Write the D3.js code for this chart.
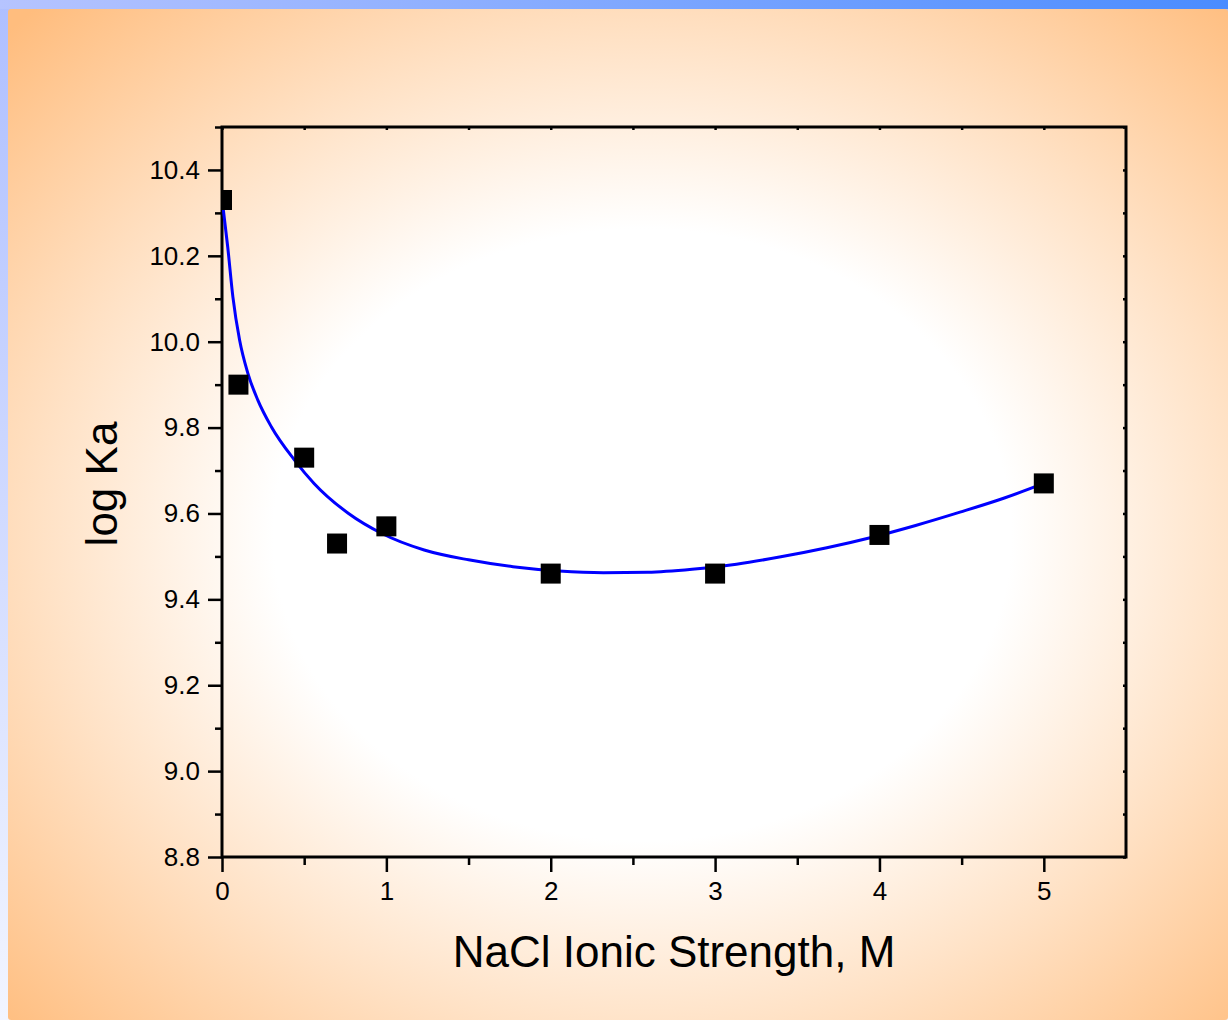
<!DOCTYPE html>
<html>
<head>
<meta charset="utf-8">
<script src="https://cdn.jsdelivr.net/npm/d3@7"></script>
<style>
  html, body { margin: 0; padding: 0; background: #fff; }
  svg { display: block; }
  text { font-family: "Liberation Sans", Arial, sans-serif; fill: #000; }
</style>
</head>
<body>
<svg id="chart" width="1228" height="1020"></svg>
<script>
// measured points
const strength = [0, 0.1, 0.5, 0.7, 1, 2, 3, 4, 5];
const logKa    = [10.33, 9.90, 9.73, 9.53, 9.57, 9.46, 9.46, 9.55, 9.67];

// fitted curve
const fitX = [0, 0.035, 0.066, 0.107, 0.157, 0.218, 0.30, 0.44, 0.56, 0.77, 0.97,
              1.23, 1.5, 1.77, 2.05, 2.32, 2.59, 2.86, 3.13, 3.4, 3.68, 3.95,
              4.22, 4.49, 4.76, 5.0];
const fitY = [10.334, 10.22, 10.105, 10.004, 9.927, 9.864, 9.802, 9.725, 9.67, 9.60, 9.554,
              9.515, 9.492, 9.476, 9.466, 9.462, 9.463, 9.47, 9.482, 9.499, 9.52, 9.544,
              9.572, 9.603, 9.636, 9.67];

// tick values
const xMajor = [0, 1, 2, 3, 4, 5];
const xMinor = [0.5, 1.5, 2.5, 3.5, 4.5];
const yMajor = [8.8, 9.0, 9.2, 9.4, 9.6, 9.8, 10.0, 10.2, 10.4];
const yMinor = [8.9, 9.1, 9.3, 9.5, 9.7, 9.9, 10.1, 10.3, 10.5];

const svg = d3.select("#chart");
const W = 1228, H = 1020;
const margin = { top: 127, right: 102, bottom: 163, left: 222 };
const width  = W - margin.left - margin.right;
const height = H - margin.top  - margin.bottom;

// background
const defs = svg.append("defs");
const topGrad = defs.append("linearGradient").attr("id", "topbar");
topGrad.append("stop").attr("offset", "0%").attr("stop-color", "#b6c4ff");
topGrad.append("stop").attr("offset", "100%").attr("stop-color", "#4a8cff");

const leftGrad = defs.append("linearGradient").attr("id", "leftbar")
  .attr("x1", 0).attr("y1", 0).attr("x2", 0).attr("y2", 1);
leftGrad.append("stop").attr("offset", "0%").attr("stop-color", "#aebfff");
leftGrad.append("stop").attr("offset", "100%").attr("stop-color", "#f2f5ff");

const glow = defs.append("radialGradient").attr("id", "glow")
  .attr("cx", "52%").attr("cy", "52%").attr("r", "72%");
glow.append("stop").attr("offset", "0%").attr("stop-color", "#ffffff");
glow.append("stop").attr("offset", "42%").attr("stop-color", "#ffffff");
glow.append("stop").attr("offset", "68%").attr("stop-color", "#ffe2c6");
glow.append("stop").attr("offset", "100%").attr("stop-color", "#ffbd7e");

defs.append("clipPath").attr("id", "plotclip")
  .append("rect").attr("width", width).attr("height", height);

svg.append("rect").attr("width", W).attr("height", H).attr("fill", "url(#leftbar)");
svg.append("rect").attr("width", W).attr("height", 9).attr("fill", "url(#topbar)");
svg.append("rect")
  .attr("x", 8).attr("y", 9).attr("width", W - 8).attr("height", H - 9)
  .attr("rx", 3)
  .attr("fill", "url(#glow)");

const x = d3.scaleLinear().domain([0, 5.5]).range([0, width]);
const y = d3.scaleLinear().domain([8.8, 10.5]).range([height, 0]);

const g = svg.append("g")
  .attr("transform", `translate(${margin.left},${margin.top})`);

// axes
function styleAxis(sel) {
  sel.select(".domain").remove();
  sel.selectAll(".tick line").attr("stroke", "#000").attr("stroke-width", 2.5);
  sel.selectAll(".tick text").style("font-size", "26px")
    .style("font-family", '"Liberation Sans", Arial, sans-serif');
}

g.append("g")
  .attr("transform", `translate(0,${height})`)
  .call(d3.axisBottom(x).tickValues(xMajor).tickSize(15).tickPadding(10).tickFormat(d3.format("d")))
  .call(styleAxis);
g.append("g")
  .attr("transform", `translate(0,${height})`)
  .call(d3.axisBottom(x).tickValues(xMinor).tickSize(8).tickFormat(""))
  .call(styleAxis);

g.append("g")
  .call(d3.axisLeft(y).tickValues(yMajor).tickSize(14).tickPadding(8).tickFormat(d3.format(".1f")))
  .call(styleAxis);
g.append("g")
  .call(d3.axisLeft(y).tickValues(yMinor).tickSize(7).tickFormat(""))
  .call(styleAxis);

// top and right: small inward ticks
g.append("g")
  .call(d3.axisTop(x).tickValues(xMajor.concat(xMinor)).tickSize(-3).tickFormat(""))
  .call(styleAxis);
g.append("g")
  .attr("transform", `translate(${width},0)`)
  .call(d3.axisRight(y).tickValues(yMajor.concat(yMinor)).tickSize(-3).tickFormat(""))
  .call(styleAxis);

// frame
g.append("rect")
  .attr("width", width).attr("height", height)
  .attr("fill", "none").attr("stroke", "#000").attr("stroke-width", 3);

// data
const plot = g.append("g").attr("clip-path", "url(#plotclip)");

const fit = fitX.map((v, i) => [v, fitY[i]]);
plot.append("path")
  .datum(fit)
  .attr("fill", "none")
  .attr("stroke", "#0000ff")
  .attr("stroke-width", 3)
  .attr("d", d3.line().x(d => x(d[0])).y(d => y(d[1])).curve(d3.curveMonotoneX));

const pts = strength.map((v, i) => ({ s: v, k: logKa[i] }));
plot.selectAll("rect.pt")
  .data(pts)
  .join("rect")
    .attr("class", "pt")
    .attr("x", d => x(d.s) - 10)
    .attr("y", d => y(d.k) - 10)
    .attr("width", 20).attr("height", 20)
    .attr("fill", "#000");

// axis titles
g.append("text")
  .attr("x", width / 2)
  .attr("y", height + 110)
  .attr("text-anchor", "middle")
  .style("font-size", "44px")
  .text("NaCl Ionic Strength, M");

g.append("text")
  .attr("transform", "rotate(-90)")
  .attr("x", -(height / 2) + 8)
  .attr("y", -105)
  .attr("text-anchor", "middle")
  .style("font-size", "44px")
  .text("log Ka");
</script>
</body>
</html>
